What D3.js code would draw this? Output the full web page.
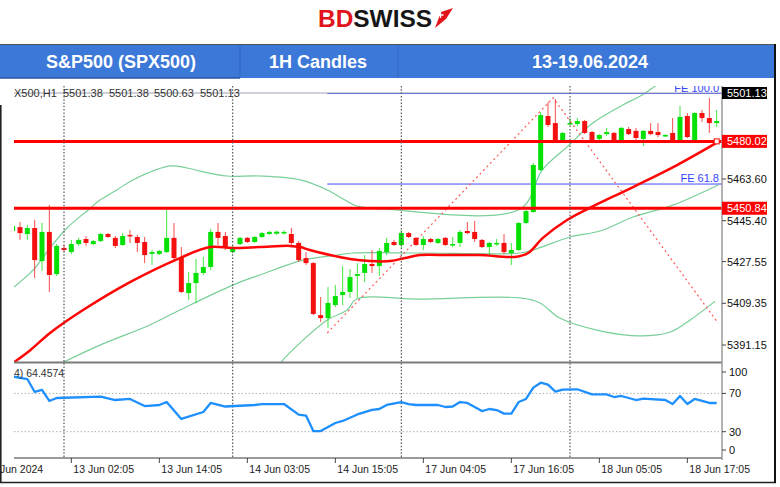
<!DOCTYPE html>
<html><head><meta charset="utf-8">
<script src="https://cdn.jsdelivr.net/npm/d3@7"></script>
<style>body{margin:0;background:#fff}svg{display:block}text{font-family:"Liberation Sans",Arial,sans-serif}</style>
</head><body><svg id="c" width="780" height="487"></svg>
<script>
// ---------------- data ----------------
const headerCells = ["S&P500 (SPX500)", "1H Candles", "13-19.06.2024"];
const ohlcCaption = ["X500,H1", "5501.38", "5501.38", "5500.63", "5501.13"];
const rsiCaption = "4) 64.4574";
const opens = [5440.9,5442.6,5439.6,5442.2,5427.8,5440.5,5422.1,5433.5,5431.7,5435.2,
5437.4,5435.2,5436.5,5439.6,5437.9,5434.8,5439.2,5438.3,5436.1,5430.9,
5430.9,5431.7,5437.9,5429.1,5413.8,5418.2,5422.6,5425.2,5440.5,5438.7,
5431.7,5435.2,5437.9,5436.1,5438.3,5439.6,5439.7,5439.8,5439.6,5435.7,
5429.1,5426.9,5404.2,5402.9,5408.6,5413.0,5414.3,5421.3,5422.6,5426.5,
5425.6,5431.7,5436.1,5434.8,5440.0,5437.9,5434.8,5437.4,5435.7,5437.9,
5434.8,5435.7,5440.9,5440.5,5437.0,5433.9,5435.2,5435.7,5431.3,5432.6,
5444.4,5449.2,5467.5,5491.1,5488.0,5479.8,5487.6,5487.6,5488.9,5484.1,
5481.1,5483.2,5483.7,5479.8,5485.4,5484.6,5481.1,5484.6,5484.1,5482.4,
5483.7,5479.8,5491.1,5480.2,5492.4,5490.2,5488.0];
const highs = [5443.9,5444.8,5443.5,5445.7,5444.4,5452.3,5435.2,5434.8,5437.0,5437.9,
5438.7,5437.0,5440.0,5440.0,5438.7,5440.0,5441.3,5439.2,5438.3,5432.6,
5432.6,5450.1,5444.4,5433.9,5423.0,5428.7,5429.6,5441.8,5444.4,5440.5,
5434.4,5438.3,5438.3,5438.7,5440.5,5440.9,5441.0,5441.1,5442.2,5436.5,
5431.7,5427.4,5412.1,5416.4,5417.3,5425.6,5424.3,5426.9,5430.4,5432.6,
5433.5,5437.9,5437.0,5441.3,5440.5,5438.3,5438.7,5437.9,5437.9,5438.3,
5438.3,5441.3,5444.8,5445.3,5437.4,5436.1,5437.4,5439.6,5435.7,5444.8,
5450.1,5470.6,5492.8,5497.2,5498.5,5484.1,5490.2,5490.2,5489.4,5484.6,
5483.2,5485.9,5484.1,5486.3,5486.3,5485.9,5485.0,5488.0,5488.0,5483.2,
5490.2,5495.5,5492.4,5492.8,5493.7,5498.9,5493.7];
const lows = [5440.0,5437.0,5437.0,5420.4,5423.4,5414.3,5421.3,5431.7,5430.9,5434.4,
5434.4,5434.8,5436.1,5437.9,5433.5,5434.4,5435.7,5431.7,5426.9,5426.1,
5430.4,5431.3,5427.4,5413.8,5410.8,5409.5,5421.7,5423.9,5434.8,5432.6,
5431.3,5434.8,5435.7,5435.7,5437.9,5439.2,5439.3,5439.4,5433.9,5427.4,
5426.1,5404.2,5401.2,5398.6,5407.7,5408.6,5411.7,5411.7,5418.6,5422.6,
5421.3,5430.4,5434.4,5433.5,5437.9,5434.4,5432.6,5435.7,5435.2,5434.4,
5433.9,5433.9,5439.6,5436.1,5433.5,5430.4,5434.4,5430.9,5426.1,5432.2,
5443.9,5448.8,5467.1,5486.3,5479.3,5479.3,5487.2,5486.7,5483.2,5479.3,
5479.8,5482.4,5479.3,5479.3,5482.8,5479.8,5478.0,5482.8,5481.9,5481.9,
5479.6,5479.3,5481.5,5479.8,5488.5,5483.7,5486.3];
const closes = [5443.1,5440.0,5442.2,5428.2,5440.5,5421.7,5434.4,5432.6,5435.2,5437.0,
5435.7,5436.5,5439.6,5438.3,5434.4,5438.7,5438.7,5435.7,5430.4,5431.7,
5432.2,5437.9,5429.1,5414.3,5418.2,5422.6,5425.2,5440.5,5437.9,5433.9,
5433.5,5437.9,5436.1,5438.3,5440.0,5440.5,5440.6,5440.5,5435.7,5428.2,
5426.9,5404.7,5402.9,5409.5,5412.5,5414.3,5420.8,5422.1,5426.5,5425.6,
5432.2,5435.7,5434.8,5440.0,5438.3,5434.8,5437.4,5436.1,5437.4,5434.8,
5435.2,5440.5,5440.0,5437.4,5433.9,5435.7,5435.7,5431.7,5432.6,5444.4,
5449.6,5469.7,5491.5,5487.2,5479.8,5483.7,5488.0,5488.9,5483.7,5479.8,
5482.8,5484.1,5479.8,5485.9,5483.2,5481.5,5484.6,5483.2,5482.8,5482.8,
5479.8,5490.7,5481.9,5492.4,5490.2,5488.0,5488.9];

// moving average (red) read at sample bars
const maBars = [0.2,2.4,5.1,9.6,16,22.8,26.9,30,33.7,37.8,39.2,40.5,43.3,46,48.7,51.5,53.5,55.5,59.6,63.7,68.5,70.3,72.3,75.6,78.7,84.6,90.6,96.2];
const maVals = [5383.7,5388.9,5396.4,5406.4,5418.6,5429.1,5433.9,5433.5,5433.9,5434.4,5433.9,5432.6,5430.4,5428.7,5427.8,5427.8,5429.1,5430.4,5430.4,5430.4,5429.6,5431.3,5437.9,5445.7,5451.0,5460.1,5469.7,5479.8];
// Bollinger bands (green)
const ubBars = [0.2,2.8,5.1,7.4,10.3,11.9,14.2,16.4,21.5,23.8,26,29.2,33.7,39.2,42.9,45.3,46.9,50.6,69.2,72.2,75.6,79.1,83.2,85.6,88.3,90.5];
const ubVals = [5416.5,5423.9,5433.5,5442.2,5450.1,5454.4,5458.8,5463.2,5469.3,5468.4,5466.7,5464.9,5464.9,5463.2,5458.8,5454.4,5451.8,5450.5,5450.5,5467.5,5477.6,5488.0,5495.9,5499.8,5505.5,5509.0];
const mbBars = [6.7,11.9,18.7,22.8,30,33.7,39.6,44.2,46.4,55.5,69.2,71,76,80.1,84.6,90.1,96.2];
const mbVals = [5383.3,5391.1,5399.9,5406.4,5417.3,5421.7,5428.2,5430.4,5431.3,5431.3,5431.3,5432.6,5438.3,5440.9,5447.0,5452.3,5461.0];
const lbBars = [35.5,36.5,39.6,42.9,45.6,46.9,55.5,69.2,71.9,74.6,80.1,85.6,89.7,92.4,95.8];
const lbVals = [5378.0,5383.3,5393.3,5402.1,5406.4,5411.2,5411.2,5411.7,5409.5,5402.9,5397.3,5395.1,5396.8,5402.1,5410.3];
// Fibonacci expansion
const fibBars = [42.9,73.7,96.2];
const fibVals = [5396.4,5499.0,5400.7];
const feLabels = ["FE 100.0","FE 61.8"];
const feVals = [5500.9,5461.4];
// horizontal levels
const levelVals = [5480.02,5450.84];
const bidPrice = 5501.13;
// axes
const priceTicks = [5463.60,5445.40,5427.55,5409.35,5391.15];
const sepBars = [7,30,53,76];
const timeBars = [-4,8,20,32,44,56,68,80,92];
const timeLabels = ["12 Jun 2024","13 Jun 02:05","13 Jun 14:05","14 Jun 03:05","14 Jun 15:05","17 Jun 04:05","17 Jun 16:05","18 Jun 05:05","18 Jun 17:05"];
// RSI
const rsiBars = [0,2,3,4,5,6,12,14,16,18,20,21,23,26,27,29,33,34,37,39,40,41,42,44,45,47,49,50,51,53,54,55,58,59,60,61,62,64,65,66,67,68,69,70,71,72,73,74,75,77,79,81,82,83,85,86,89,90,91,92,93,94,95,96];
const rsiVals = [87.6,85.0,71.5,73.6,62.1,65.2,66.7,63.1,64.2,56.8,57.9,61.0,43.3,50.6,60.0,56.3,57.9,58.9,58.9,47.9,46.8,30.7,30.7,39.1,41.2,48.0,52.7,53.7,57.9,61.0,58.9,57.9,57.9,55.8,56.3,61.0,60.0,51.6,53.7,52.6,48.9,48.9,61.0,64.2,76.0,81.2,79.1,71.8,73.9,74.3,68.9,68.9,66.2,67.3,63.1,64.6,63.1,58.9,67.3,58.9,64.2,62.1,60.0,60.0];
const rsiTicks = [100,70,30,0];
const rsiLevels = [70,30];

// ---------------- drawing ----------------
const svg = d3.select("#c");
const L = 14, R = 722, mT = 86, mB = 362, rT = 364, rB = 458;
const x = d3.scaleLinear().domain([0,96]).range([12.67,716.67]);
const y = d3.scaleLinear().domain([5463.60,5391.15]).range([179,345]);
const yr = d3.scaleLinear().domain([70,30]).range([393.4,431.7]);

const defs = svg.append("defs");
defs.append("clipPath").attr("id","cm").append("rect").attr("x",L).attr("y",mT).attr("width",R-L).attr("height",mB-mT);
defs.append("clipPath").attr("id","cr").append("rect").attr("x",L).attr("y",rT+1).attr("width",R-L).attr("height",rB-rT-1);
defs.append("clipPath").attr("id","ca").append("rect").attr("x",R).attr("y",80).attr("width",767-R).attr("height",400);

// logo
const logo = svg.append("text").attr("x",318).attr("y",27).attr("font-size",24).attr("font-weight","bold")
  .attr("textLength",114).attr("lengthAdjust","spacingAndGlyphs");
logo.append("tspan").attr("fill","#e1141c").text("BD");
logo.append("tspan").attr("fill","#161616").text("SWISS");
svg.append("path").attr("d","M435,28 L441,12 L453,8 L446,19 Z").attr("fill","#e1141c");
svg.append("path").attr("d","M440.5,12 v6 M437.5,15 h6").attr("stroke","#fff").attr("stroke-width",1.3);

// header bar
svg.append("rect").attr("x",0).attr("y",44).attr("width",774).attr("height",34).attr("fill","#3c78d8");
svg.append("line").attr("x1",0).attr("x2",776).attr("y1",44.5).attr("y2",44.5).attr("stroke","#555").attr("stroke-width",1.2);
[240,398].forEach(v=>svg.append("line").attr("x1",v).attr("x2",v).attr("y1",45).attr("y2",78).attr("stroke","#3266c0").attr("stroke-width",1));
svg.append("line").attr("x1",0).attr("x2",240).attr("y1",78).attr("y2",78).attr("stroke","#2a56a6").attr("stroke-width",1.5);
const hx = [121,318,590], hl = [150,null,null];
headerCells.forEach((t,i)=>{
  const tx = svg.append("text").attr("x",hx[i]).attr("y",67.5).attr("text-anchor","middle")
    .attr("font-size",18).attr("font-weight","bold").attr("fill","#fff").text(t);
  if(hl[i]) tx.attr("textLength",hl[i]).attr("lengthAdjust","spacingAndGlyphs");
});

// main panel
const gm = svg.append("g").attr("clip-path","url(#cm)");
const lineGen = (bs,vs,ys)=>d3.line().curve(d3.curveCatmullRom.alpha(0.5))(bs.map((b,i)=>[x(b),ys(vs[i])]));
[[ubBars,ubVals],[mbBars,mbVals],[lbBars,lbVals]].forEach(([b,v])=>
  gm.append("path").attr("d",lineGen(b,v,y)).attr("fill","none").attr("stroke","#78cf98").attr("stroke-width",1.2));

// FE levels
feVals.forEach((v,i)=>{
  gm.append("line").attr("x1",x(fibBars[0])).attr("x2",R).attr("y1",y(v)).attr("y2",y(v)).attr("stroke","#3d4cff").attr("stroke-width",1);
  gm.append("text").attr("x",R-3).attr("y",y(v)-2).attr("text-anchor","end").attr("font-size",11).attr("fill","#3444ff").text(feLabels[i]);
});
// bid line
gm.append("line").attr("x1",L).attr("x2",R).attr("y1",y(bidPrice)).attr("y2",y(bidPrice)).attr("stroke","#9ea2b4").attr("stroke-width",1);
// fib dashed
gm.append("path").attr("d",d3.line()(fibBars.map((b,i)=>[x(b),y(fibVals[i])]))).attr("fill","none")
  .attr("stroke","#ff5a5a").attr("stroke-width",1.2).attr("stroke-dasharray","2,3");

// candles
const idx = d3.range(opens.length);
const up = i=>closes[i]>=opens[i];
const cG = "#05e005", cR = "#f51010";
gm.selectAll("line.w").data(idx).join("line").attr("class","w")
  .attr("x1",i=>x(i)).attr("x2",i=>x(i)).attr("y1",i=>y(highs[i])).attr("y2",i=>y(lows[i]))
  .attr("stroke",i=>up(i)?cG:cR).attr("stroke-width",1).attr("opacity",0.75);
gm.selectAll("rect.b").data(idx).join("rect").attr("class","b")
  .attr("x",i=>x(i)-2.5).attr("width",5)
  .attr("y",i=>y(Math.max(opens[i],closes[i])))
  .attr("height",i=>Math.max(1.5,Math.abs(y(opens[i])-y(closes[i]))))
  .attr("fill",i=>up(i)?cG:cR);

// red horizontal levels
levelVals.forEach(v=>gm.append("line").attr("x1",L).attr("x2",R).attr("y1",y(v)).attr("y2",y(v)).attr("stroke","#ff0000").attr("stroke-width",3));
// MA
gm.append("path").attr("d",lineGen(maBars,maVals,y)).attr("fill","none").attr("stroke","#ff0505").attr("stroke-width",2.5);
gm.append("rect").attr("x",x(96)-2.5).attr("y",y(levelVals[0])-2.5).attr("width",5).attr("height",5).attr("fill","#fff").attr("stroke","#ff0000");

// caption (OHLC of last bar)
const capX = [14,63,109,154,200];
ohlcCaption.forEach((t,i)=>gm.append("text").attr("x",capX[i]).attr("y",96.5).attr("font-size",11).attr("fill","#333").text(t));

// separators (both panels)
sepBars.forEach(b=>svg.append("line").attr("x1",x(b)).attr("x2",x(b)).attr("y1",mT).attr("y2",rB)
  .attr("stroke","#555").attr("stroke-width",1.2).attr("stroke-dasharray","1.5,1.8"));

// frames
svg.append("line").attr("x1",L).attr("x2",R).attr("y1",mB+0.5).attr("y2",mB+0.5).attr("stroke","#7a7a7a").attr("stroke-width",1.8);
svg.append("line").attr("x1",L).attr("x2",R).attr("y1",rB).attr("y2",rB).attr("stroke","#7a7a7a").attr("stroke-width",1.5);
svg.append("line").attr("x1",R).attr("x2",R).attr("y1",mT).attr("y2",rB+2).attr("stroke","#9a9a9a").attr("stroke-width",1.5);

// price axis
const ga = svg.append("g").attr("clip-path","url(#ca)");
priceTicks.forEach(p=>{
  ga.append("line").attr("x1",R).attr("x2",R+4).attr("y1",y(p)).attr("y2",y(p)).attr("stroke","#444");
  ga.append("text").attr("x",727).attr("y",y(p)+4).attr("font-size",11).attr("fill","#111").text(d3.format(".2f")(p));
});
levelVals.forEach(v=>{
  ga.append("rect").attr("x",R).attr("y",y(v)-6.5).attr("width",46).attr("height",13).attr("fill","#ff0000");
  ga.append("text").attr("x",727).attr("y",y(v)+4).attr("font-size",11).attr("fill","#fff").text(d3.format(".2f")(v));
});
ga.append("rect").attr("x",R).attr("y",y(bidPrice)-6).attr("width",46).attr("height",12).attr("fill","#000");
ga.append("text").attr("x",727).attr("y",y(bidPrice)+4).attr("font-size",11).attr("fill","#fff").text(d3.format(".2f")(bidPrice));

// RSI panel
const gr = svg.append("g").attr("clip-path","url(#cr)");
rsiLevels.forEach(v=>gr.append("line").attr("x1",L).attr("x2",R).attr("y1",yr(v)).attr("y2",yr(v))
  .attr("stroke","#b0b0b0").attr("stroke-dasharray","1.5,2"));
gr.append("path").attr("d",d3.line()(rsiBars.map((b,i)=>[x(b),yr(rsiVals[i])]))).attr("fill","none")
  .attr("stroke","#1e8fff").attr("stroke-width",2.3).attr("stroke-linejoin","round");
gr.append("text").attr("x",L).attr("y",377).attr("font-size",10.5).attr("fill","#333").text(rsiCaption);
rsiTicks.forEach(v=>{
  const ty = Math.max(376,Math.min(454,yr(v)+4));
  svg.append("line").attr("x1",R).attr("x2",R+4).attr("y1",ty-4).attr("y2",ty-4).attr("stroke","#444");
  svg.append("text").attr("x",729).attr("y",ty).attr("font-size",11).attr("fill","#111").text(v);
});

// time axis
timeBars.forEach((b,i)=>{
  svg.append("line").attr("x1",x(b)).attr("x2",x(b)).attr("y1",rB).attr("y2",rB+5).attr("stroke","#444");
  svg.append("text").attr("x",x(b)+2).attr("y",472.5).attr("font-size",10.5).attr("fill","#222").text(timeLabels[i]);
});

// outer borders
svg.append("line").attr("x1",0).attr("x2",776).attr("y1",482.5).attr("y2",482.5).attr("stroke","#222").attr("stroke-width",1.5);
svg.append("line").attr("x1",775).attr("x2",775).attr("y1",44).attr("y2",483).attr("stroke","#111").attr("stroke-width",2);
svg.append("line").attr("x1",0.8).attr("x2",0.8).attr("y1",105).attr("y2",483).attr("stroke","#222").attr("stroke-width",1.6);
</script></body></html>
